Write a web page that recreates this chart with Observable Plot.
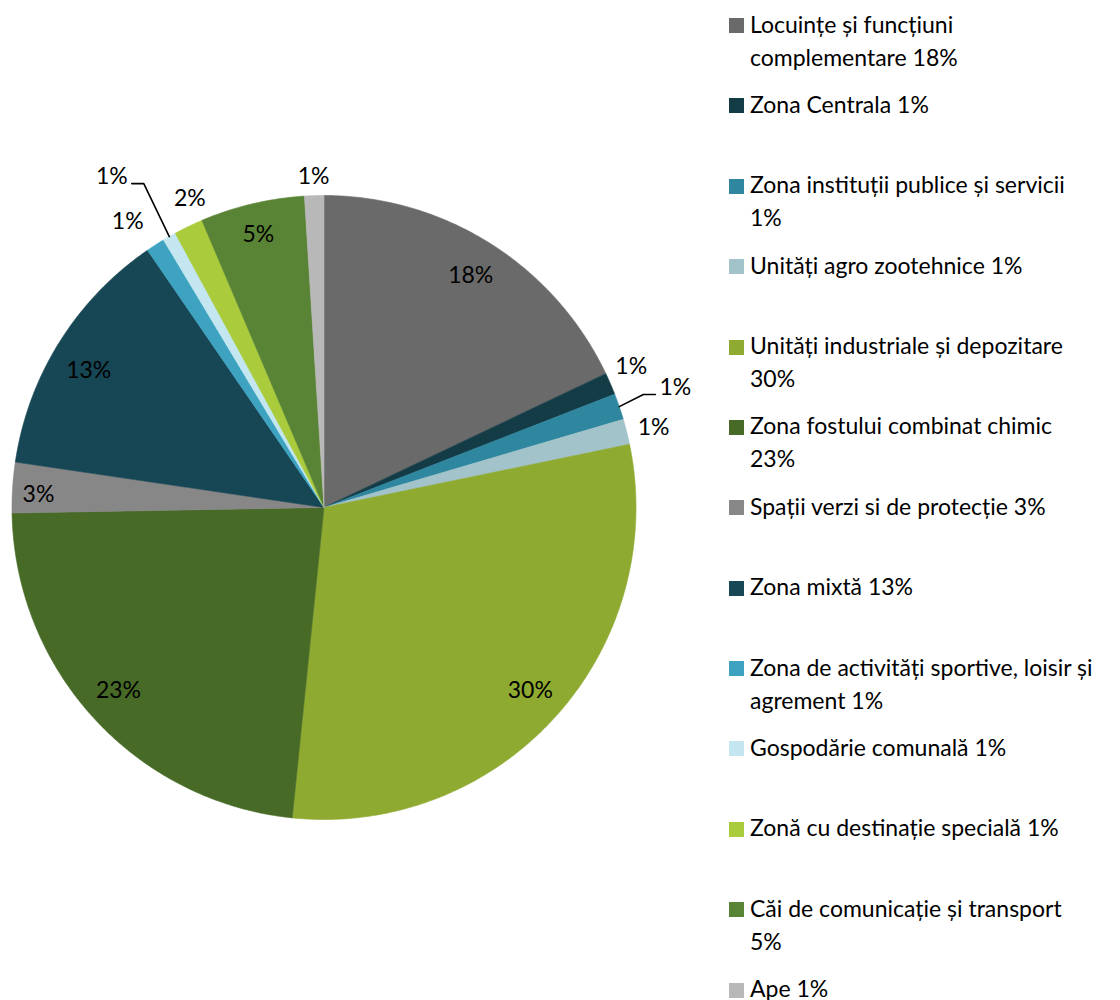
<!DOCTYPE html>
<html>
<head>
<meta charset="utf-8">
<script src="https://cdn.jsdelivr.net/npm/d3@7"></script>
<script src="https://cdn.jsdelivr.net/npm/@observablehq/plot@0.6"></script>
<style>
  html, body { margin: 0; padding: 0; background: #fff; }
  #wrap { position: relative; width: 1120px; height: 1000px; font-family: Lato, "Open Sans", sans-serif; }
  #legend { position: absolute; left: 0; top: 0; }
  .item { position: absolute; left: 750px; font-size: 23px; line-height: 33px; color: #000; white-space: nowrap; }
  .sw { position: absolute; left: 729px; width: 15px; height: 15px; }
</style>
</head>
<body>
<div id="wrap"><div id="legend"></div></div>
<script>
// ---- data ----
const categories = [
  "Locuințe și funcțiuni complementare 18%",
  "Zona Centrala 1%",
  "Zona instituții publice și servicii 1%",
  "Unități agro zootehnice 1%",
  "Unități industriale și depozitare 30%",
  "Zona fostului combinat chimic 23%",
  "Spații verzi si de protecție 3%",
  "Zona mixtă 13%",
  "Zona de activități sportive, loisir și agrement 1%",
  "Gospodărie comunală 1%",
  "Zonă cu destinație specială 1%",
  "Căi de comunicație și transport 5%",
  "Ape 1%"
];
const values = [17.94, 1.14, 1.36, 1.31, 29.87, 23.09, 2.61, 13.10, 0.97, 0.69, 1.51, 5.40, 1.00];
const colors = ["#6a6a6a", "#143c47", "#2f879f", "#a2c3ca", "#8faa30", "#476a27", "#878787",
                "#174655", "#3da3c1", "#c3e6f0", "#aacc3c", "#5a8435", "#b8b8b8"];

// ---- layout (not data) ----
const W = 720, H = 1000, cx = 323.5, cy = 507, R = 312;
const labelR = [0.88, 1.083, 1.19, 1.087, 0.884, 0.882, 0.916, 0.873, 1.112, 1.26, 1.08, 0.9, 1.06];
const labelShift = [0, -1.25, 0, 0.45, -0.5, 0.9, -1.05, -1.7, -1.75, -2.95, 2.3, -0.2, 0];
const leaderSide = {2: 1, 9: -1};
const legendFirstLineWords = [3, null, 5, null, 4, 4, null, null, 6, null, null, 5, null];

const total = d3.sum(values);
const fmt = d3.format(".0%");
let acc = 0;
const slices = values.map((v, i) => {
  const a0 = acc / total * 2 * Math.PI;
  acc += v;
  const a1 = acc / total * 2 * Math.PI;
  return {i, cat: categories[i], v, a0, a1, mid: (a0 + a1) / 2};
});

// polygon points for each slice (unit circle, y down)
const slicePts = [];
for (const s of slices) {
  slicePts.push({cat: s.cat, x: 0, y: 0});
  const n = Math.max(2, Math.ceil((s.a1 - s.a0) / (Math.PI / 360)));
  for (let k = 0; k <= n; k++) {
    const a = s.a0 + (s.a1 - s.a0) * k / n;
    slicePts.push({cat: s.cat, x: Math.sin(a), y: -Math.cos(a)});
  }
  slicePts.push({cat: s.cat, x: 0, y: 0});
}

const labels = slices.map(s => {
  const a = s.mid + labelShift[s.i] * Math.PI / 180;
  const r = labelR[s.i];
  return {x: r * Math.sin(a), y: -r * Math.cos(a), text: fmt(s.v / total)};
});

const leaderPts = [];
for (const [k, side] of Object.entries(leaderSide)) {
  const s = slices[+k], L = labels[+k];
  leaderPts.push({id: k, x: Math.sin(s.mid), y: -Math.cos(s.mid)});
  leaderPts.push({id: k, x: L.x - side * 32 / R, y: L.y + 7 / R});
  leaderPts.push({id: k, x: L.x - side * 20 / R, y: L.y + 7 / R});
}

const chart = Plot.plot({
  width: W,
  height: H,
  margin: 0,
  style: {fontFamily: "Lato, 'Open Sans', sans-serif", fontSize: "23px", background: "transparent"},
  x: {domain: [-cx / R, (W - cx) / R], range: [0, W], axis: null},
  y: {domain: [-cy / R, (H - cy) / R], range: [0, H], axis: null},
  color: {domain: categories, range: colors},
  marks: [
    Plot.line(slicePts, {x: "x", y: "y", z: "cat", fill: "cat", stroke: "cat", strokeWidth: 0.6}),
    Plot.line(leaderPts, {x: "x", y: "y", z: "id", stroke: "#000", strokeWidth: 1.6}),
    Plot.text(labels, {x: "x", y: "y", text: "text", fontSize: 23, fill: "#000", textAnchor: "middle"})
  ]
});
chart.style.position = "absolute";
chart.style.left = "0px";
chart.style.top = "0px";
document.getElementById("wrap").prepend(chart);

// legend
const legend = document.getElementById("legend");
categories.forEach((c, i) => {
  const sq = document.createElement("div");
  sq.className = "sw";
  sq.style.top = (18 + 80.375 * i) + "px";
  sq.style.background = colors[i];
  legend.appendChild(sq);
  const t = document.createElement("div");
  t.className = "item";
  t.style.top = (7.6 + 80.375 * i) + "px";
  const words = c.split(" ");
  const n = legendFirstLineWords[i];
  if (n) {
    t.appendChild(document.createTextNode(words.slice(0, n).join(" ")));
    t.appendChild(document.createElement("br"));
    t.appendChild(document.createTextNode(words.slice(n).join(" ")));
  } else {
    t.textContent = c;
  }
  legend.appendChild(t);
});
</script>
</body>
</html>
